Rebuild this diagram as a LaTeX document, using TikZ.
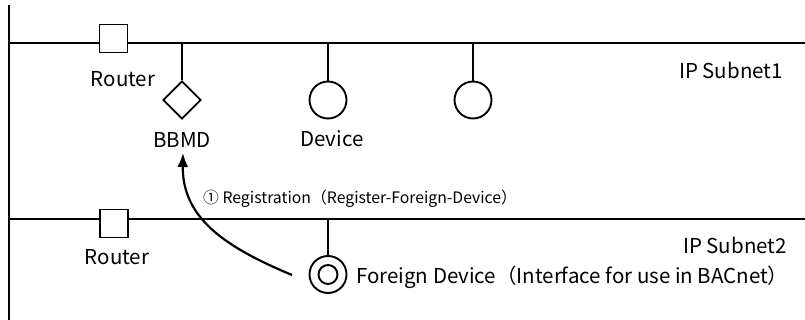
\documentclass[tikz,border=0pt]{standalone}
\usepackage{fontspec}
\setmainfont{Noto Sans CJK JP}
\usetikzlibrary{shapes.geometric,arrows.meta}
\tikzset{
  wire/.style={line width=1.9pt,black},
  routerbox/.style={draw,line width=1.9pt,fill=white,minimum size=28pt,inner sep=0pt},
  bbmdbox/.style={draw,diamond,line width=1.9pt,fill=white,minimum width=38pt,minimum height=38pt,inner sep=0pt},
  devcircle/.style={draw,circle,line width=1.9pt,fill=white,minimum size=37pt,inner sep=0pt},
  innercircle/.style={draw,circle,line width=1.9pt,minimum size=19pt,inner sep=0pt},
  lbl/.style={font=\fontsize{20.5}{22}\selectfont,inner sep=0pt},
  smalllbl/.style={font=\fontsize{15.8}{17}\selectfont,inner sep=0pt},
  regarrow/.style={line width=2.2pt,-{Latex[length=14pt,width=11pt]}}
}
\begin{document}
\begin{tikzpicture}[x=1pt,y=-1pt]
\useasboundingbox (0,0) rectangle (805,320);
% backbone
\coordinate (vtop) at (9,5);
\coordinate (vbot) at (9,320);
\draw[wire] (vtop) -- (vbot);
% subnet 1 bus
\coordinate (b1l) at (9,43);
\coordinate (b1r) at (805,43);
\draw[wire] (b1l) -- (b1r);
% subnet 2 bus
\coordinate (b2l) at (9,219);
\coordinate (b2r) at (805,219);
\draw[wire] (b2l) -- (b2r);
% routers
\node[routerbox] (r1) at (113.5,38.5) {};
\node[lbl] (r1l) at (123,79) {Router};
\node[routerbox] (r2) at (114,223.5) {};
\node[lbl] (r2l) at (117,257) {Router};
% BBMD
\coordinate (tb) at (182,43);
\node[bbmdbox] (bbmd) at (182,100) {};
\draw[wire] (tb) -- (bbmd.north);
\node[lbl] (bbmdl) at (182,140) {BBMD};
% devices
\coordinate (td1) at (328,43);
\node[devcircle] (d1) at (328,100) {};
\draw[wire] (td1) -- (d1.north);
\node[lbl] (d1l) at (332,139) {Device};
\coordinate (td2) at (473,43);
\node[devcircle] (d2) at (473,100) {};
\draw[wire] (td2) -- (d2.north);
% subnet labels
\node[lbl,anchor=east] (s1) at (783,70) {IP Subnet1};
\node[lbl,anchor=east] (s2) at (787,245) {IP Subnet2};
% foreign device
\coordinate (tf) at (328,219);
\node[devcircle] (fd) at (328,274.5) {};
\node[innercircle] (fdi) at (fd.center) {};
\draw[wire] (tf) -- (fd.north);
\node[lbl,anchor=west] (fdl) at (356,277) {Foreign Device（Interface for use in BACnet）};
% registration
\coordinate (regs) at (292,275);
\coordinate (rege) at (183,153);
\draw[regarrow] (regs) .. controls (225,247) and (182,218) .. (rege);
\node[smalllbl,anchor=west] (regl) at (203,199) {① Registration（Register-Foreign-Device）};
\end{tikzpicture}
\end{document}
